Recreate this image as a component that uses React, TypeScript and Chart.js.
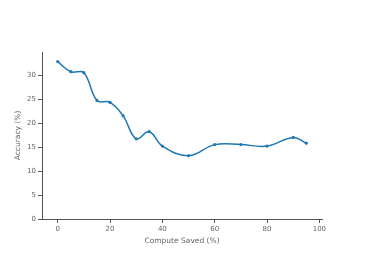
import React, { useEffect, useRef } from "react";
import { Chart, registerables } from "chart.js";

Chart.register(...registerables);

const computeSaved = [0, 5, 10, 15, 20, 25, 30, 35, 40, 50, 60, 70, 80, 90, 95];
const accuracy = [32.8, 30.7, 30.5, 24.7, 24.3, 21.5, 16.7, 18.2, 15.2, 13.2, 15.5, 15.5, 15.2, 17.0, 15.8];
const xTicks = [0, 20, 40, 60, 80, 100];
const yTicks = [0, 5, 10, 15, 20, 25, 30];

const AXIS = "#555";
const TEXT = "#666";
const FONT = { family: "'DejaVu Sans', Verdana, sans-serif", size: 7 };

export default function App() {
  const ref = useRef<HTMLCanvasElement>(null);
  useEffect(() => {
    if (!ref.current) return;
    const chart = new Chart(ref.current, {
      type: "line",
      data: {
        datasets: [
          {
            data: computeSaved.map((x, i) => ({ x, y: accuracy[i] })),
            borderColor: "#1f77b4",
            backgroundColor: "#1f77b4",
            borderWidth: 1.5,
            pointRadius: 1.6,
            pointHoverRadius: 1.6,
            pointBorderWidth: 0,
            tension: 0.4,
            fill: false,
          },
        ],
      },
      options: {
        animation: false,
        responsive: false,
        maintainAspectRatio: false,
        layout: { padding: { left: 0, top: 52, right: 44, bottom: 0 } },
        plugins: { legend: { display: false }, tooltip: { enabled: false } },
        scales: {
          x: {
            type: "linear",
            min: -6,
            max: 101,
            afterBuildTicks: (s: any) => {
              s.ticks = xTicks.map((v) => ({ value: v }));
            },
            afterFit: (s: any) => {
              s.height = 42;
            },
            grid: { display: true, drawOnChartArea: false, drawTicks: true, tickLength: 4, color: AXIS },
            border: { display: true, color: AXIS, width: 1 },
            ticks: { color: TEXT, font: FONT, padding: 2, maxRotation: 0 },
            title: { display: true, text: "Compute Saved (%)", color: TEXT, font: { ...FONT, size: 7.5 }, padding: { top: 0, bottom: 15.5 } },
          },
          y: {
            type: "linear",
            min: 0,
            max: 34.8,
            afterBuildTicks: (s: any) => {
              s.ticks = yTicks.map((v) => ({ value: v }));
            },
            afterFit: (s: any) => {
              s.width = 42;
            },
            grid: { display: true, drawOnChartArea: false, drawTicks: true, tickLength: 4, color: AXIS },
            border: { display: true, color: AXIS, width: 1 },
            ticks: { color: TEXT, font: FONT, padding: 2 },
            title: { display: true, text: "Accuracy (%)", color: TEXT, font: { ...FONT, size: 7.5 }, padding: { top: 13.5, bottom: 0 } },
          },
        },
      },
    });
    return () => chart.destroy();
  }, []);
  return (
    <div style={{ position: "fixed", left: 0, top: 0, width: 366, height: 261, background: "#fff" }}>
      <canvas ref={ref} width={366} height={261} style={{ width: 366, height: 261 }} />
    </div>
  );
}
